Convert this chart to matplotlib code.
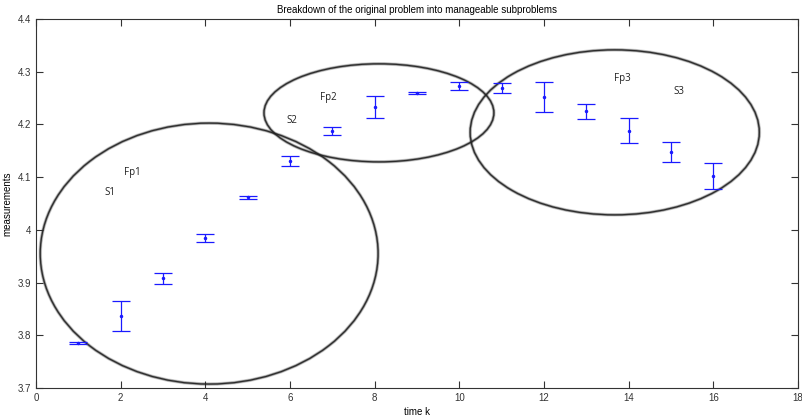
import numpy as np
import matplotlib
matplotlib.use('Agg')
import matplotlib.pyplot as plt
from matplotlib.patches import Ellipse

plt.rcParams['font.family'] = ['Liberation Sans', 'DejaVu Sans']

# measurements over time with error bars
time_k = [1, 2, 3, 4, 5, 6, 7, 8, 9, 10, 11, 12, 13, 14, 15, 16]
measurements = [3.785, 3.837, 3.908, 3.985, 4.062, 4.131, 4.188, 4.233,
                4.260, 4.273, 4.269, 4.252, 4.225, 4.188, 4.147, 4.102]
errors = [0.002, 0.028, 0.011, 0.008, 0.003, 0.0095, 0.008, 0.021,
          0.002, 0.008, 0.009, 0.028, 0.014, 0.024, 0.019, 0.025]

# subproblem regions: (x center, y center, width, height, angle)
regions = [(4.09, 3.955, 7.98, 0.495, 0),
           (8.10, 4.222, 5.43, 0.186, 0),
           (13.67, 4.185, 6.83, 0.313, 0)]

# labels inside regions
label_text = ['Fp1', 'S1', 'S2', 'Fp2', 'Fp3', 'S3']
label_x = [2.27, 1.75, 6.04, 6.9, 13.86, 15.18]
label_y = [4.108, 4.070, 4.207, 4.252, 4.288, 4.262]

fig = plt.figure(figsize=(8.02, 4.17), dpi=100)
ax = fig.add_axes([0.0449, 0.0695, 0.9502, 0.8849])

ax.errorbar(time_k, measurements, yerr=errors, fmt='.', color='#1a1aff',
            ecolor='#1a1aff', markersize=3, capsize=6.5, elinewidth=0.9,
            capthick=0.9, zorder=3)

# blurred looking ellipse outlines
for xc, yc, w, h, ang in regions:
    for lw, alpha in [(2.6, 0.18), (1.7, 0.4), (0.9, 0.9)]:
        ax.add_patch(Ellipse((xc, yc), w, h, angle=ang, fill=False,
                             edgecolor='#222222', linewidth=lw, alpha=alpha,
                             zorder=2))

for t, x, y in zip(label_text, label_x, label_y):
    ax.text(x, y, t, fontsize=7, color='#222222', ha='center', va='center',
            family=['Open Sans', 'DejaVu Sans'])

ax.set_xlim(0, 18)
ax.set_ylim(3.7, 4.4)
ax.set_xticks(np.arange(0, 19, 2))
ax.set_yticks(np.arange(3.7, 4.41, 0.1))
ax.set_yticklabels(['3.7', '3.8', '3.9', '4', '4.1', '4.2', '4.3', '4.4'])
ax.tick_params(direction='in', top=True, right=True, labelsize=7,
               colors='#333333', length=5, width=0.8)
for s in ax.spines.values():
    s.set_color('#333333')
    s.set_linewidth(0.8)

ax.set_title('Breakdown of the original problem into manageable subproblems',
             fontsize=7, pad=4)
ax.set_xlabel('time k', fontsize=7, labelpad=3)
ax.set_ylabel('measurements', fontsize=7, labelpad=4)

fig.savefig('out.png', dpi=100)
